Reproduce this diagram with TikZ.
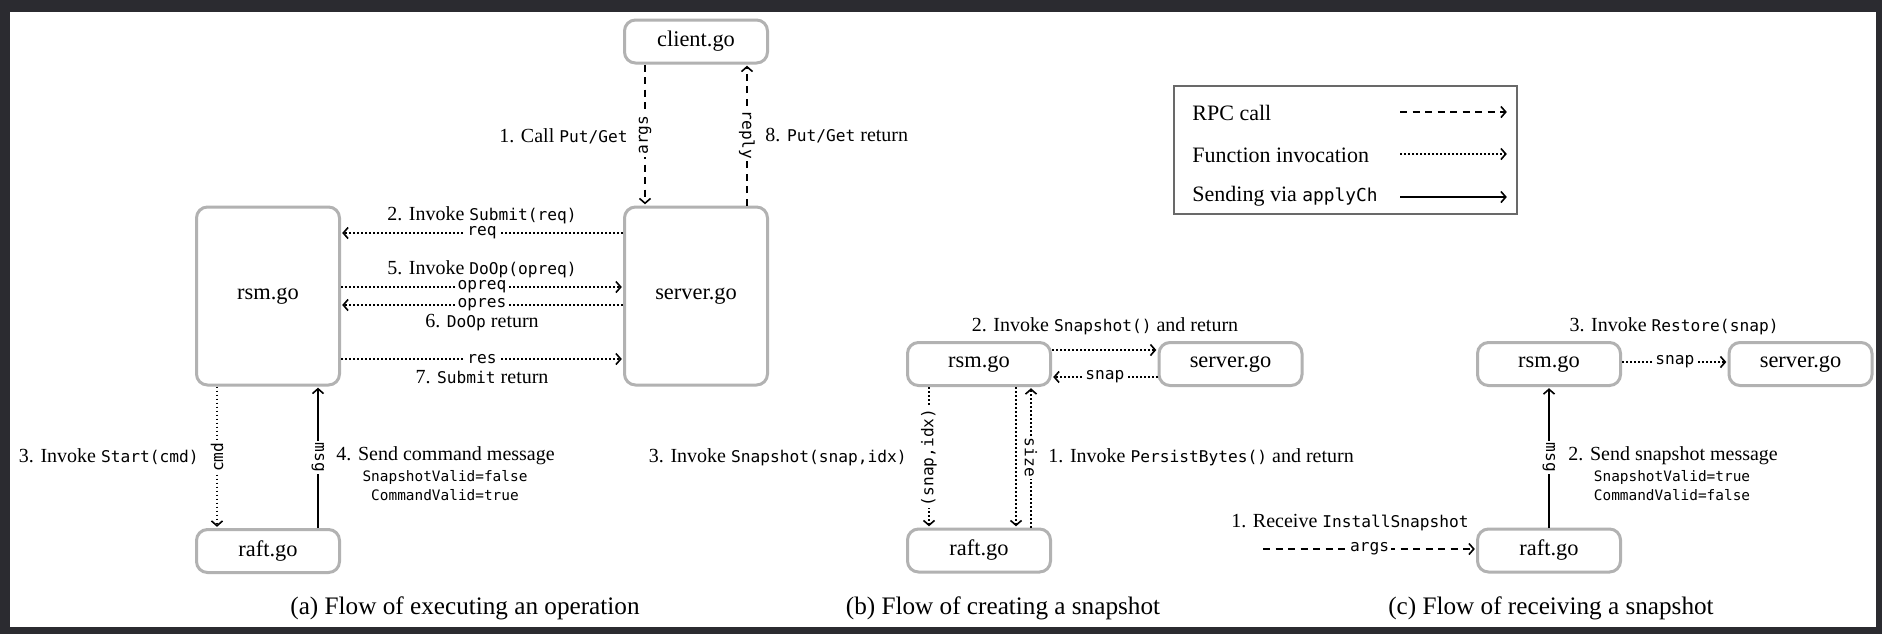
\documentclass[tikz,border=0pt]{standalone}
\usepackage{fontspec}
\setmainfont{Liberation Serif}
\setmonofont[Scale=0.81]{DejaVu Sans Mono}
\usetikzlibrary{arrows.meta}
\definecolor{framec}{RGB}{43,43,48}
\definecolor{boxc}{RGB}{178,178,178}
\definecolor{legc}{RGB}{105,105,105}
\newcommand\mytt[1]{{\ttfamily #1}}
\begin{document}
\begin{tikzpicture}[x=0.5pt,y=-0.5pt,
  box/.style={draw=boxc, line width=1.5pt, rounded corners=5.5pt, fill=white,
    minimum width=71.5pt, minimum height=21.5pt, inner sep=0pt,
    font=\fontsize{11.2}{13}\selectfont},
  tall/.style={box, minimum height=89pt},
  lbl/.style={font=\fontsize{10}{12}\selectfont, inner sep=1pt},
  leg/.style={font=\fontsize{11}{13}\selectfont, inner sep=1pt},
  captext/.style={font=\fontsize{12.6}{15}\selectfont, inner sep=1pt},
  sm/.style={font=\fontsize{8.9}{10}\selectfont\ttfamily, inner sep=0pt},
  onl/.style={fill=white, inner sep=1pt, font=\fontsize{10}{12}\selectfont\ttfamily},
  tip/.style={-{Straight Barb[length=2.4pt,width=5.5pt]}, shorten >=0.6pt},
  rpc/.style={line width=0.8pt, dash pattern=on 3.5pt off 2.75pt, tip},
  fn/.style={line width=0.8pt, dash pattern=on 0.9pt off 1.1pt, tip},
  ch/.style={line width=0.8pt, tip}]
\useasboundingbox (0,0) rectangle (1882,634);
\fill[framec] (0,0) rectangle (1882,634);
\fill[white] (10,12) rectangle (1876,627);

% ---------- (a)
\node[box] (client) at (696,41.5) {client.go};
\node[tall] (serverA) at (696,296) {server.go};
\node[tall] (rsmA) at (268,296) {rsm.go};
\node[box] (raftA) at (268,551) {raft.go};

\draw[rpc] ([xshift=-25.5pt]client.south) -- node[onl,rotate=90]{args} ([xshift=-25.5pt]serverA.north);
\draw[rpc] ([xshift=25.5pt]serverA.north) -- node[onl,rotate=-90]{reply} ([xshift=25.5pt]client.south);
\draw[fn] ([yshift=31.5pt]serverA.west) -- node[onl]{req} ([yshift=31.5pt]rsmA.east);
\draw[fn] ([yshift=4.5pt]rsmA.east) -- node[onl]{opreq} ([yshift=4.5pt]serverA.west);
\draw[fn] ([yshift=-4.5pt]serverA.west) -- node[onl]{opres} ([yshift=-4.5pt]rsmA.east);
\draw[fn] ([yshift=-31.5pt]rsmA.east) -- node[onl]{res} ([yshift=-31.5pt]serverA.west);
\draw[fn] ([xshift=-25.5pt]rsmA.south) -- node[onl,rotate=90]{cmd} ([xshift=-25.5pt]raftA.north);
\draw[ch] ([xshift=25pt]raftA.north) -- node[onl,rotate=-90]{msg} ([xshift=25pt]rsmA.south);

\node[lbl] (l2) at (482,215) {2. Invoke \mytt{Submit(req)}};
\node[lbl] (l5) at (482,269) {5. Invoke \mytt{DoOp(opreq)}};
\node[lbl] (l6) at (482,323) {6. \mytt{DoOp} return};
\node[lbl] (l7) at (482,377) {7. \mytt{Submit} return};
\node[lbl,anchor=east] (l1) at (630,136) {1. Call \mytt{Put/Get}};
\node[lbl,anchor=west] (l8) at (763,136) {8. \mytt{Put/Get} return};
\node[lbl,anchor=east] (l3) at (201,457) {3. Invoke \mytt{Start(cmd)}};
\node[lbl,anchor=west] (l4) at (334,456) {4. Send command message};
\node[sm] (l4a) at (445,477) {SnapshotValid=false};
\node[sm] (l4b) at (445,495) {CommandValid=true};

% ---------- (b)
\node[box] (rsmB) at (979,364) {rsm.go};
\node[box] (serverB) at (1230.5,364) {server.go};
\node[box] (raftB) at (979,550.5) {raft.go};
\draw[fn] ([yshift=7pt]rsmB.east) -- ([yshift=7pt]serverB.west);
\draw[fn] ([yshift=-6.5pt]serverB.west) -- node[onl]{snap} ([yshift=-6.5pt]rsmB.east);
\draw[fn] ([xshift=-25pt]rsmB.south) -- node[onl,rotate=90]{(snap,idx)} ([xshift=-25pt]raftB.north);
\draw[fn] ([xshift=18.5pt]rsmB.south) -- ([xshift=18.5pt]raftB.north);
\draw[fn] ([xshift=26pt]raftB.north) -- node[onl,rotate=-90]{size} ([xshift=26pt]rsmB.south);
\node[lbl] (lb2) at (1105,326) {2. Invoke \mytt{Snapshot()} and return};
\node[lbl,anchor=east] (lb3) at (909,457) {3. Invoke \mytt{Snapshot(snap,idx)}};
\node[lbl,anchor=west] (lb1) at (1046,457) {1. Invoke \mytt{PersistBytes()} and return};

% ---------- (c)
\node[box] (rsmC) at (1549,364) {rsm.go};
\node[box] (serverC) at (1800.5,364) {server.go};
\node[box] (raftC) at (1549,550.5) {raft.go};
\draw[fn] ([yshift=1pt]rsmC.east) -- node[onl]{snap} ([yshift=1pt]serverC.west);
\draw[ch] (raftC) -- node[onl,rotate=-90]{msg} (rsmC);
\coordinate (inC) at (1263,549);
\draw[rpc] (inC) -- node[onl]{args} (inC -| raftC.west);
\node[lbl] (lc3) at (1674,326) {3. Invoke \mytt{Restore(snap)}};
\node[lbl] (lc1) at (1350,523) {1. Receive \mytt{InstallSnapshot}};
\node[lbl,anchor=west] (lc2) at (1566,456) {2. Send snapshot message};
\node[sm] (lc2a) at (1672,477) {SnapshotValid=true};
\node[sm] (lc2b) at (1672,495) {CommandValid=false};

% ---------- legend
\draw[legc, line width=0.6pt] (1174,86) rectangle (1517,214);
\node[leg,anchor=west] (k1) at (1190,113) {RPC call};
\node[leg,anchor=west] (k2) at (1190,155) {Function invocation};
\node[leg,anchor=west] (k3) at (1190,196) {Sending via \mytt{applyCh}};
\coordinate (k1a) at (1400,112); \coordinate (k1b) at (1508,112);
\coordinate (k2a) at (1400,154); \coordinate (k2b) at (1508,154);
\coordinate (k3a) at (1400,197); \coordinate (k3b) at (1508,197);
\draw[rpc] (k1a) -- (k1b);
\draw[fn] (k2a) -- (k2b);
\draw[ch] (k3a) -- (k3b);

% ---------- captions
\node[captext] (capa) at (465,608) {(a) Flow of executing an operation};
\node[captext] (capb) at (1003,608) {(b) Flow of creating a snapshot};
\node[captext] (capc) at (1551,608) {(c) Flow of receiving a snapshot};
\end{tikzpicture}
\end{document}
